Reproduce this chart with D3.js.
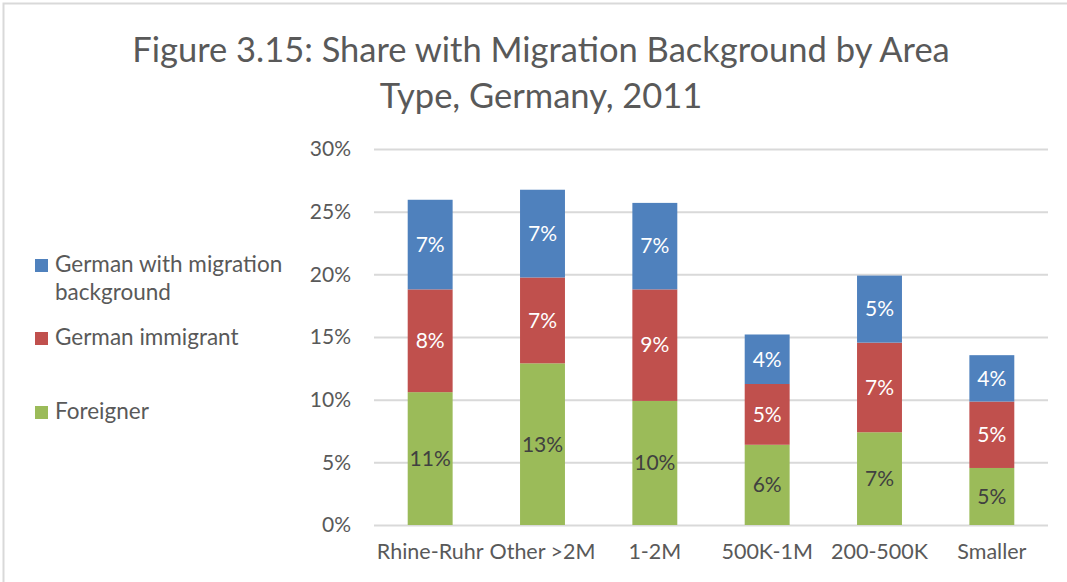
<!DOCTYPE html>
<html>
<head>
<meta charset="utf-8">
<script src="https://cdn.jsdelivr.net/npm/d3@7"></script>
<style>
  body { margin: 0; background: #fff; }
  svg { display: block; font-family: Lato, "Open Sans", sans-serif; }
</style>
</head>
<body>
<svg width="1067" height="582"></svg>
<script>
var categories = ["Rhine-Ruhr", "Other >2M", "1-2M", "500K-1M", "200-500K", "Smaller"];
var seriesNames = ["Foreigner", "German immigrant", "German with migration background"];
var foreigner = [10.6, 12.9, 9.9, 6.4, 7.4, 4.55];
var germanImmigrant = [8.2, 6.85, 8.9, 4.85, 7.15, 5.3];
var germanMigration = [7.15, 7.0, 6.9, 3.95, 5.35, 3.7];
var yTicks = [0, 5, 10, 15, 20, 25, 30];

var colors = ["#9BBB59", "#C0504D", "#4F81BD"];
var labelColors = ["#404040", "#ffffff", "#ffffff"];

var svg = d3.select("svg"),
    width = +svg.attr("width"),
    height = +svg.attr("height");

var margin = {left: 374, right: 19, top: 149, bottom: 57};

// frame
svg.append("path")
  .attr("d", "M3.5," + height + "V3.5H" + width)
  .attr("fill", "none")
  .attr("stroke", "#d9d9d9")
  .attr("stroke-width", 2);

var x = d3.scaleBand()
  .domain(categories)
  .range([margin.left, width - margin.right])
  .paddingInner(0.6)
  .paddingOuter(0.3);

var y = d3.scaleLinear()
  .domain([0, 30])
  .range([height - margin.bottom, margin.top]);

// title
var title = svg.append("text")
  .attr("text-anchor", "middle")
  .attr("fill", "#595959")
  .attr("font-size", 34.5);
title.append("tspan").attr("x", 541).attr("y", 62).text("Figure 3.15: Share with Migration Background by Area");
title.append("tspan").attr("x", 541).attr("y", 108).text("Type, Germany, 2011");

// grid + y axis
var yAxis = svg.append("g")
  .attr("transform", "translate(" + margin.left + ",0)")
  .call(d3.axisLeft(y).tickValues(yTicks)
    .tickSize(-(width - margin.left - margin.right))
    .tickPadding(23)
    .tickFormat(function(d) { return d + "%"; }));
yAxis.select(".domain").remove();
yAxis.selectAll("line").attr("stroke", "#d9d9d9").attr("stroke-width", 2);
yAxis.selectAll("text").attr("fill", "#595959").attr("font-size", 21)
  .attr("font-family", "Lato, sans-serif");

// x axis labels
var xAxis = svg.append("g")
  .attr("transform", "translate(0," + (height - margin.bottom) + ")")
  .call(d3.axisBottom(x).tickSize(0).tickPadding(19));
xAxis.select(".domain").remove();
xAxis.selectAll("text").attr("fill", "#595959").attr("font-size", 21.5)
  .attr("font-family", "Lato, sans-serif");

// stacked data
var rows = categories.map(function(c, i) {
  return {cat: c, s0: foreigner[i], s1: germanImmigrant[i], s2: germanMigration[i]};
});
var stack = d3.stack().keys(["s0", "s1", "s2"]);
var layers = stack(rows);

var layer = svg.append("g").selectAll("g")
  .data(layers)
  .enter().append("g")
  .attr("fill", function(d, i) { return colors[i]; });

layer.selectAll("rect")
  .data(function(d) { return d; })
  .enter().append("rect")
  .attr("x", function(d) { return x(d.data.cat); })
  .attr("width", x.bandwidth())
  .attr("y", function(d) { return y(d[1]); })
  .attr("height", function(d) { return y(d[0]) - y(d[1]); });

var fmt = d3.format(".0%");
layers.forEach(function(l, i) {
  svg.append("g").selectAll("text")
    .data(l)
    .enter().append("text")
    .attr("x", function(d) { return x(d.data.cat) + x.bandwidth() / 2; })
    .attr("y", function(d) { return (y(d[0]) + y(d[1])) / 2; })
    .attr("dy", "0.35em")
    .attr("text-anchor", "middle")
    .attr("font-size", 21)
    .attr("fill", labelColors[i])
    .text(function(d) { return fmt((d[1] - d[0]) / 100); });
});

// legend
var legendItems = [
  {name: seriesNames[2], color: colors[2], y: 272, lines: ["German with migration", "background"]},
  {name: seriesNames[1], color: colors[1], y: 345, lines: ["German immigrant"]},
  {name: seriesNames[0], color: colors[0], y: 419, lines: ["Foreigner"]}
];
var legend = svg.append("g");
legendItems.forEach(function(it) {
  legend.append("rect")
    .attr("x", 35).attr("y", it.y - 13)
    .attr("width", 13).attr("height", 13)
    .attr("fill", it.color);
  var t = legend.append("text")
    .attr("fill", "#595959")
    .attr("font-size", 22.5);
  it.lines.forEach(function(line, k) {
    t.append("tspan").attr("x", 55).attr("y", it.y + k * 28).text(line);
  });
});
</script>
</body>
</html>
